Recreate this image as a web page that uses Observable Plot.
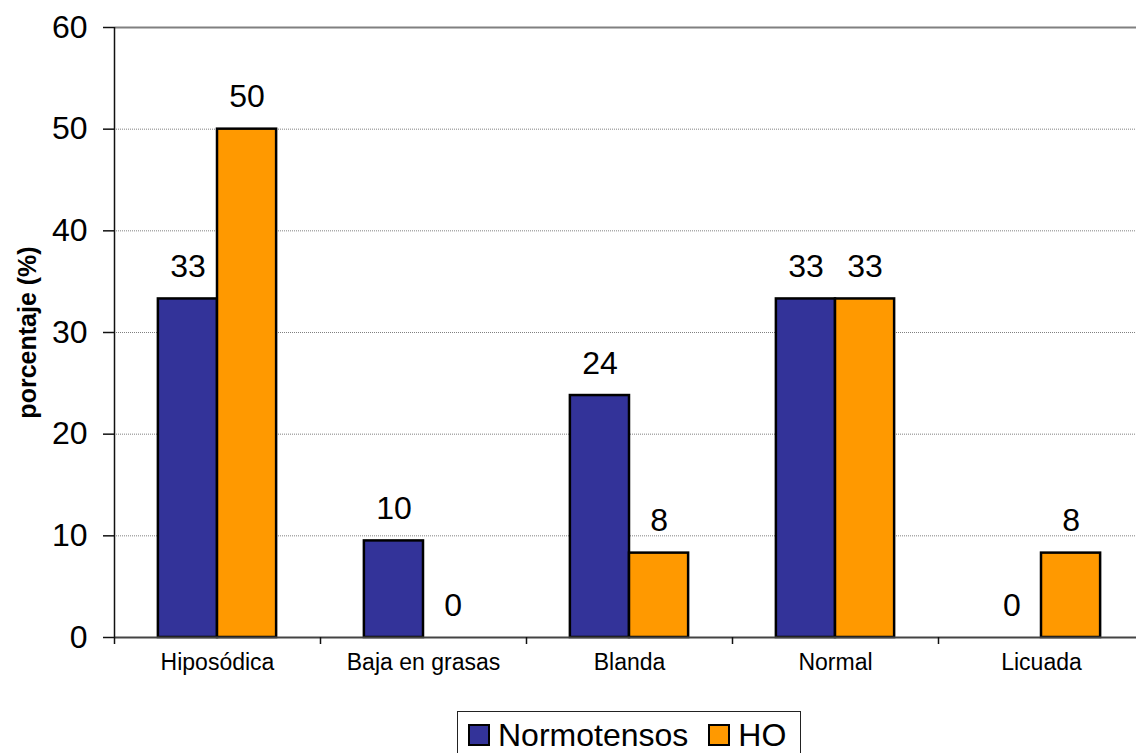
<!DOCTYPE html>
<html>
<head>
<meta charset="utf-8">
<script src="https://cdn.jsdelivr.net/npm/d3@7"></script>
<script src="https://cdn.jsdelivr.net/npm/@observablehq/plot@0.6"></script>
<style>
  html, body { margin: 0; padding: 0; background: #fff; overflow: hidden; }
  body { font-family: "Liberation Sans", Arial, sans-serif; }
  #legend {
    box-sizing: border-box;
    margin: 6px 0 0 457px;
    width: 344px;
    height: 52px;
    border: 1.5px solid #222;
    display: flex;
    align-items: center;
    padding: 0 0 4px 10px;
    font-size: 32px;
    color: #000;
  }
  .sw {
    box-sizing: border-box;
    width: 22px; height: 22px;
    border: 2px solid #000;
    margin-right: 8px;
  }
  .item { display: flex; align-items: center; margin-right: 20px; }
</style>
</head>
<body>
<div id="chart"></div>
<div id="legend"></div>
<script>
// Tipo de dieta seguida, porcentaje por grupo
const categories = ["Hiposódica", "Baja en grasas", "Blanda", "Normal", "Licuada"];
const normotensos = [33.3, 9.5, 23.8, 33.3, 0];
const ho = [50, 0, 8.3, 33.3, 8.3];
const seriesNames = ["Normotensos", "HO"];
const seriesColors = ["#333399", "#FF9900"];
const yTicks = [0, 10, 20, 30, 40, 50, 60];

// long table: one row per bar
const rows = [];
categories.forEach((c, i) => {
  rows.push({cat: c, i, series: seriesNames[0], s: 0, value: normotensos[i]});
  rows.push({cat: c, i, series: seriesNames[1], s: 1, value: ho[i]});
});

// each category occupies one unit on x; the two bars sit side by side at its centre
const barW = 0.287;
const x1 = d => d.i + 0.5 - barW + d.s * barW;
const x2 = d => d.i + 0.5 + d.s * barW;
const xc = d => d.i + 0.5 - barW / 2 + d.s * barW;
const fmt = d3.format(".0f");

const chart = Plot.plot({
  width: 1136,
  height: 705,
  marginLeft: 114,
  marginRight: 0,
  marginTop: 27,
  marginBottom: 68,
  style: {fontFamily: '"Liberation Sans", Arial, sans-serif', color: "#000", background: "#fff"},
  x: {domain: [0, 5], range: [114, 1144]},
  y: {domain: [0, 60]},
  color: {domain: seriesNames, range: seriesColors},
  marks: [
    // gridlines
    Plot.ruleY(yTicks.filter(v => v > 0 && v < 60), {stroke: "#808080", strokeWidth: 1, strokeDasharray: "1,1"}),
    Plot.ruleY([60], {stroke: "#808080", strokeWidth: 2}),
    // bars
    Plot.rectY(rows.filter(d => d.value > 0), {
      x1, x2, y1: 0, y2: "value",
      fill: "series", stroke: "#000", strokeWidth: 2.5
    }),
    // axes lines
    Plot.ruleY([0], {stroke: "#444", strokeWidth: 2}),
    Plot.ruleX([0], {stroke: "#111", strokeWidth: 1.5}),
    Plot.axisY({ticks: yTicks, tickSize: 11, tickPadding: 16, fontSize: 32, label: null, stroke: "#111", strokeWidth: 1.5}),
    Plot.axisX({ticks: [0, 1, 2, 3, 4], tickSize: 7, tickFormat: () => "", label: null, stroke: "#111", strokeWidth: 1.5}),
    // category names
    Plot.text(categories, {x: (d, i) => i + 0.5, frameAnchor: "bottom", dy: 32, fontSize: 23, fill: "#000"}),
    // value labels
    Plot.text(rows, {x: xc, y: "value", text: d => fmt(d.value), dy: -32, fontSize: 32, fill: "#000"}),
    // y title
    Plot.text(["porcentaje (%)"], {frameAnchor: "left", textAnchor: "middle", dx: -87, rotate: -90, fontSize: 25, fontWeight: "bold", fill: "#000"})
  ]
});
document.getElementById("chart").appendChild(chart);

// legend
const legend = document.getElementById("legend");
seriesNames.forEach((name, k) => {
  const item = document.createElement("div");
  item.className = "item";
  const sw = document.createElement("div");
  sw.className = "sw";
  sw.style.background = seriesColors[k];
  const label = document.createElement("span");
  label.textContent = name;
  item.appendChild(sw);
  item.appendChild(label);
  legend.appendChild(item);
});
</script>
</body>
</html>
